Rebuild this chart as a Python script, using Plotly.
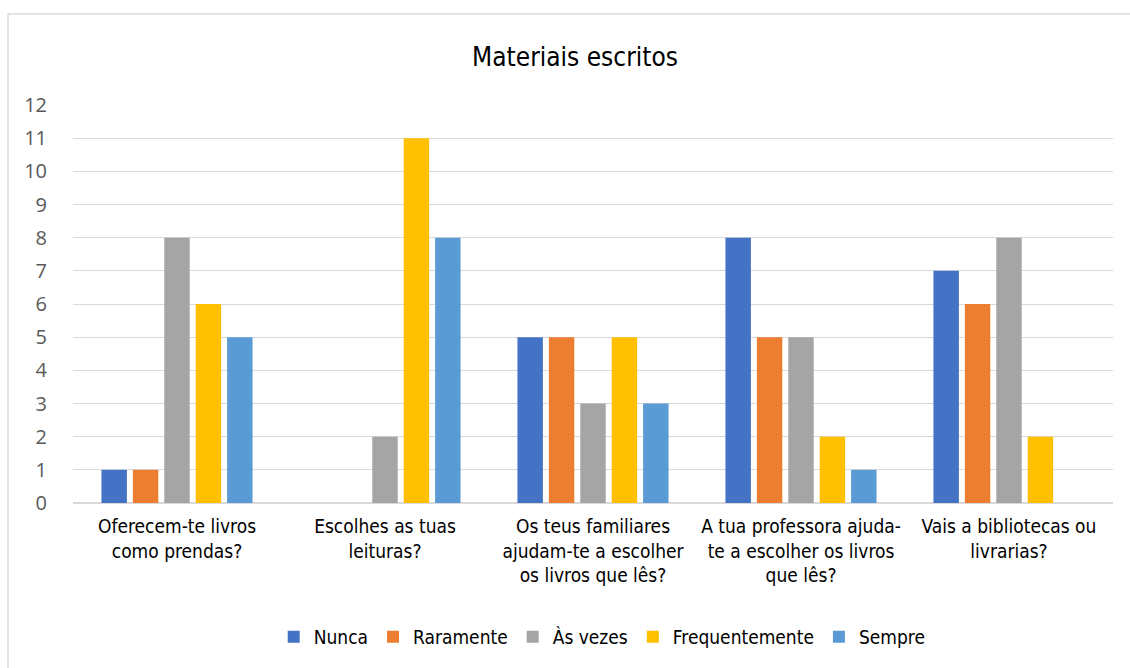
import plotly.graph_objects as go

categories = [
    "Oferecem-te livros<br>como prendas?",
    "Escolhes as tuas<br>leituras?",
    "Os teus familiares<br>ajudam-te a escolher<br>os livros que lês?",
    "A tua professora ajuda-<br>te a escolher os livros<br>que lês?",
    "Vais a bibliotecas ou<br>livrarias?",
]
series_names = ["Nunca", "Raramente", "Às vezes", "Frequentemente", "Sempre"]
nunca = [1, 0, 5, 8, 7]
raramente = [1, 0, 5, 5, 6]
as_vezes = [8, 2, 3, 5, 8]
frequentemente = [6, 11, 5, 2, 2]
sempre = [5, 8, 3, 1, 0]
colors = ["#4472C4", "#ED7D31", "#A5A5A5", "#FFC000", "#5B9BD5"]
y_ticks = list(range(0, 13))

W, H = 1130, 668
L, R, T, B = 73, 17, 105, 165
pw, ph = W - L - R, H - T - B

fig = go.Figure()
for name, vals, col in zip(series_names, [nunca, raramente, as_vezes, frequentemente, sempre], colors):
    fig.add_trace(go.Bar(x=categories, y=vals, name=name,
                         marker=dict(color=col, line=dict(width=0))))

narrow = "Liberation Sans Narrow, DejaVu Sans Condensed, Arial Narrow, sans-serif"

fig.update_layout(
    width=W, height=H,
    margin=dict(l=L, r=R, t=T, b=B, pad=0),
    paper_bgcolor="white", plot_bgcolor="white",
    barmode="group", bargap=0.245, bargroupgap=0.19,
    title=dict(text="Materiais escritos", x=575 / W, xanchor="center",
               y=1 - 57 / H, yanchor="middle",
               font=dict(family=narrow, size=26, color="#000000")),
    xaxis=dict(showgrid=False, showline=False, ticks="", ticklabelstandoff=10,
               tickfont=dict(family=narrow, size=19, color="#000000")),
    yaxis=dict(range=[0, 12], tickvals=y_ticks, showgrid=True, gridcolor="#D9D9D9",
               gridwidth=1, zeroline=True, zerolinecolor="#D9D9D9", zerolinewidth=1.5,
               ticks="outside", ticklen=21, tickcolor="rgba(0,0,0,0)",
               tickfont=dict(family="Open Sans, sans-serif", size=20, color="#595959")),
    legend=dict(orientation="h", x=575 / W, xref="paper", xanchor="center",
                y=(H - B - 637) / ph, yanchor="middle",
                font=dict(family=narrow, size=19, color="#000000"),
                itemwidth=30, tracegroupgap=0),
    showlegend=True,
)
# chart border
fig.add_shape(type="rect", xref="paper", yref="paper",
              x0=(8 - L) / pw, x1=(W + 20 - L) / pw,
              y0=(H - B - (H + 20)) / ph, y1=(H - B - 14) / ph,
              line=dict(color="#D9D9D9", width=1.5), fillcolor="rgba(0,0,0,0)", layer="below")

fig.write_html("out.html")
